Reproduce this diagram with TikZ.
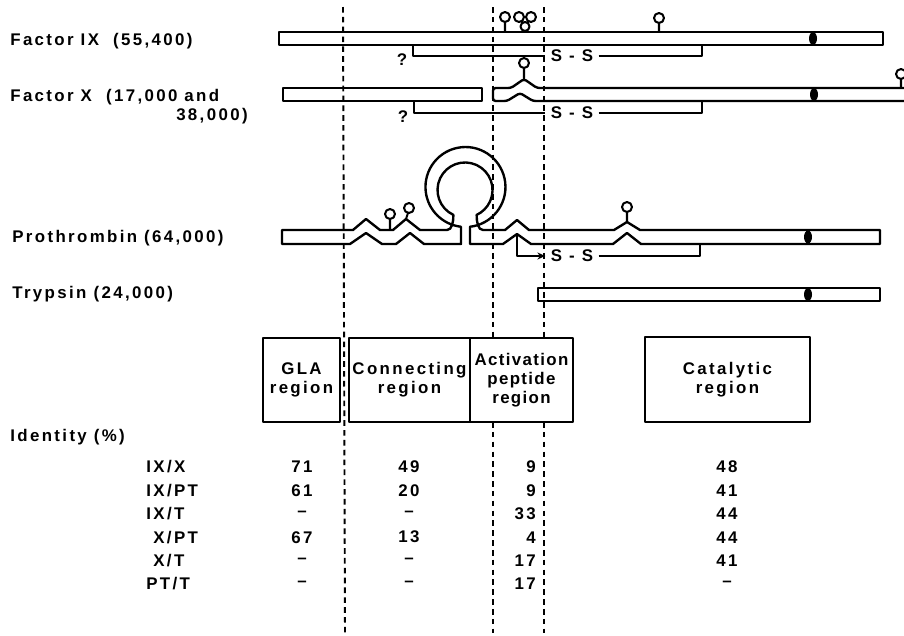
\documentclass[tikz,border=0pt]{standalone}
\usepackage{fontspec}
\setmainfont{Liberation Sans}[LetterSpace=14]
\newfontfamily\tightfont{Liberation Sans}[LetterSpace=8]
\usetikzlibrary{arrows.meta}

\begin{document}
\begin{tikzpicture}[x=0.02cm,y=0.02cm,line join=round,
  every node/.style={font=\fontsize{9.6}{11}\selectfont\bfseries, inner sep=0pt},
  chain/.style={line width=1.35pt},
  link/.style={line width=1.15pt},
  sugar/.style={line width=1.15pt},
  divide/.style={line width=1.1pt, dash pattern=on 3.2pt off 2.4pt},
  ss/.style={inner sep=3pt},
  regbox/.style={draw, line width=1.3pt, align=center, minimum height=84*0.02cm}]

\useasboundingbox (0,0) rectangle (904,-636);

% dividing lines
\draw[divide] (343,-7) -- (345,-633);
\draw[divide] (493,-7) -- (493,-338) (493,-422) -- (493,-633);
\draw[divide] (544,-7) -- (544,-338) (544,-422) -- (544,-633);

% names
\node[anchor=west] (f9) at (10,-41) {Factor IX\ \ (55,400)};
\node[anchor=west] (f10) at (10,-97) {Factor X\ \ (17,000 and};
\node[anchor=east] (f10b) at (248,-116) {38,000)};
\node[anchor=west] (pt) at (12,-238) {Prothrombin (64,000)};
\node[anchor=west] (tr) at (12,-294) {Trypsin (24,000)};

% factor IX
\draw[chain] (279,-32) rectangle (883,-45);
\fill (813,-38.5) ellipse (4 and 6.5);
\draw[sugar] (505,-32) -- (505,-22) (505,-17) circle (5);
\draw[sugar] (519,-17) circle (5) (531,-17) circle (5) (525,-26.5) circle (4.5);
\draw[sugar] (659,-32) -- (659,-23) (659,-18) circle (5);
\node[ss] (ss9) at (572,-56) {S - S};
\node (q9) at (402,-60) {?};
\draw[link] (413,-45) |- (ss9.west);
\draw[link] (ss9.east) -| (702,-45);

% factor X
\draw[chain] (283,-88) rectangle (482,-101);
\draw[chain, rounded corners=1.5pt] (906,-88) -- (537,-88) -- (524,-79) -- (511,-88) -- (493,-88)
  -- (493,-101) -- (507,-101) -- (520,-93) -- (533,-101) -- (906,-101);
\fill (814,-94.5) ellipse (4 and 6.5);
\draw[sugar] (524,-79) -- (524,-68) (524,-63) circle (5);
\draw[sugar] (901,-88) -- (901,-79) (901,-74) circle (5);
\node[ss] (ssx) at (572,-113) {S - S};
\node (qx) at (403,-117) {?};
\draw[link] (414,-101) |- (ssx.west);
\draw[link] (ssx.east) -| (702,-101);

% prothrombin
\draw[chain] (282,-244) -- (282,-230) -- (353,-230) -- (366,-219) -- (380,-230) -- (393,-230)
  -- (406,-219) -- (420,-230) -- (447,-230)
  .. controls (452,-230) and (453.4,-222) .. (453.4,-214.9)
  arc[start angle=245, end angle=-65, radius=27.5]
  .. controls (476.6,-222) and (478,-230) .. (483,-230)
  -- (505,-230) -- (517,-220) -- (529,-230) -- (614,-230) -- (627,-222) -- (640,-230)
  -- (880,-230) -- (880,-244) -- (641,-244) -- (627,-233) -- (613,-244) -- (531,-244)
  -- (517,-234) -- (503,-244) -- (470,-244) -- (470,-226.75)
  arc[start angle=-83.5, end angle=263.5, radius=40]
  -- (461,-244) -- (424,-244) -- (410,-233) -- (396,-244) -- (382,-244) -- (366,-233)
  -- (350,-244) -- cycle;
\draw[sugar] (390,-230) -- (390,-219) (390,-214) circle (5);
\draw[sugar] (406,-219) -- (408,-213) (409,-208) circle (5);
\draw[sugar] (627,-222) -- (627,-212) (627,-207) circle (5);
\fill (808,-237) ellipse (4 and 6.5);
\node[ss] (sspt) at (572,-256) {S - S};
\draw[link, -{Stealth[length=4.5pt,width=4pt]}] (517,-234) |- (sspt.west);
\draw[link] (sspt.east) -| (700,-244);

% trypsin
\draw[chain] (538,-288) rectangle (880,-301);
\fill (808,-294.5) ellipse (4 and 6.5);

% regions
\node[regbox, minimum width=77*0.02cm] (gla) at (301.5,-380) {GLA\\region};
\node[regbox, minimum width=121*0.02cm] (conn) at (409.5,-380) {Connecting\\region};
\node[regbox, minimum width=103*0.02cm, font=\fontsize{9.6}{11}\selectfont\tightfont\bfseries] (act) at (521.5,-380) {Activation\\peptide\\region};
\node[regbox, minimum width=165*0.02cm, minimum height=85*0.02cm] (cat) at (727.5,-379.5) {Catalytic\\region};

% identity table
\node[anchor=west] (ident) at (10,-437) {Identity (\%)};
\foreach \pair/\xl/\g/\c/\a/\k [count=\i] in
  {{IX/X}/146/71/49/9/48, {IX/PT}/146/61/20/9/41, {IX/T}/146/–/–/33/44,
   {X/PT}/153/67/13/4/44, {X/T}/153/–/–/17/41, {PT/T}/146/–/–/17/–}{
  \node[anchor=west] (pair\i) at (\xl,{-467-23.4*(\i-1)}) {\pair};
  \node (gla\i) at (302,{-467-23.4*(\i-1)}) {\g};
  \node (conn\i) at (409,{-467-23.4*(\i-1)}) {\c};
  \node[anchor=east] (act\i) at (536,{-467-23.4*(\i-1)}) {\a};
  \node (cat\i) at (727,{-467-23.4*(\i-1)}) {\k};
}

\end{tikzpicture}
\end{document}
